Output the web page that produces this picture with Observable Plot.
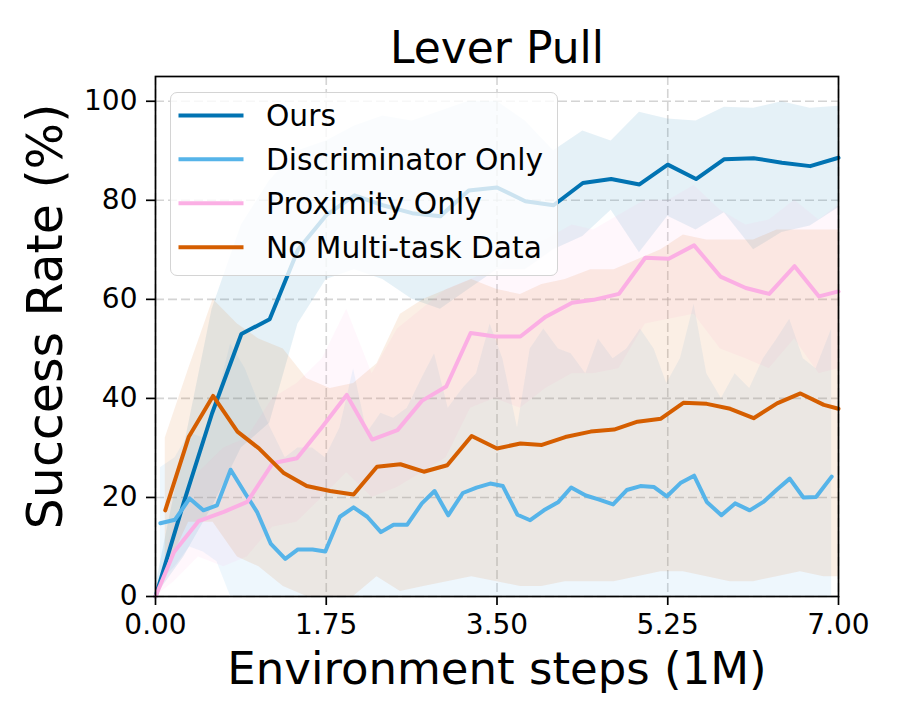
<!DOCTYPE html>
<html>
<head>
<meta charset="utf-8">
<script src="https://cdn.jsdelivr.net/npm/d3@7"></script>
<script src="https://cdn.jsdelivr.net/npm/@observablehq/plot@0.6"></script>
<style>
  body { margin: 0; background: #fff; font-family: "DejaVu Sans", sans-serif; }
  #wrap { position: relative; width: 900px; height: 720px; }
  #legend { position: absolute; left: 170px; top: 92px; width: 388px; height: 184px;
            box-sizing: border-box; border: 1.5px solid #d4d4d4; border-radius: 7px;
            background: rgba(255,255,255,0.8); }
</style>
</head>
<body>
<div id="wrap"><div id="legend"></div></div>
<script>
// ---------------- data ----------------
const titleText = "Lever Pull";
const xLabel = "Environment steps (1M)";
const yLabel = "Success Rate (%)";
const xTicks = [0, 1.75, 3.5, 5.25, 7];
const yTicks = [0, 20, 40, 60, 80, 100];

const names = ["Ours", "Discriminator Only", "Proximity Only", "No Multi-task Data"];
const colors = ["#0173B2", "#56B4E9", "#FBAFE4", "#D55E00"];

// Ours
const oursX = [0, 0.29, 0.58, 0.88, 1.17, 1.46, 1.75, 2.04, 2.33, 2.63, 2.92, 3.21, 3.5, 3.79, 4.08, 4.38, 4.67, 4.96, 5.25, 5.54, 5.83, 6.13, 6.42, 6.71, 7.0];
const oursMean = [0, 19, 37, 53, 56, 70, 77, 81, 79, 77.4, 76.8, 82, 82.6, 79.8, 79, 83.5, 84.3, 83.2, 87.2, 84.3, 88.3, 88.5, 87.6, 86.9, 88.6];
const oursLo = [0, 8, 18, 30, 35, 55, 64, 66, 64, 60, 58, 62, 66, 66, 70, 72.7, 78, 69.4, 76.8, 74, 77.5, 70, 73.5, 74.8, 78.5];
const oursHi = [2, 30, 58, 75, 84, 90, 92, 95, 97, 96, 98, 100, 100, 96, 90, 94, 92, 97.8, 96.4, 96, 98.8, 98.6, 99.9, 98.6, 99];

// Discriminator Only
const discX = [0.05, 0.20, 0.35, 0.49, 0.63, 0.77, 0.92, 1.04, 1.18, 1.33, 1.46, 1.61, 1.74, 1.89, 2.03, 2.17, 2.31, 2.44, 2.58, 2.73, 2.86, 3.00, 3.15, 3.29, 3.43, 3.56, 3.71, 3.84, 3.98, 4.13, 4.26, 4.41, 4.54, 4.69, 4.83, 4.97, 5.11, 5.24, 5.38, 5.52, 5.65, 5.80, 5.94, 6.09, 6.23, 6.37, 6.50, 6.64, 6.77, 6.93];
const discMean = [14.8, 15.5, 19.8, 17.4, 18.4, 25.6, 20.8, 17.1, 10.7, 7.6, 9.5, 9.5, 9.1, 16.1, 18.0, 16.1, 13.0, 14.5, 14.5, 18.8, 21.3, 16.4, 20.9, 22.0, 22.8, 22.3, 16.5, 15.4, 17.4, 19.1, 22.0, 20.4, 19.6, 18.6, 21.5, 22.3, 22.1, 20.2, 22.9, 24.4, 19.1, 16.4, 18.8, 17.4, 19.1, 21.6, 23.8, 20.0, 20.1, 24.2];
const discLo = [3, 6, 10, 9, 7, 0, 0, 0, 0, 0, 0, 0, 0, 0, 0, 0, 0, 0, 0, 0, 0, 0, 0, 0, 0, 0, 0, 0, 0, 0, 0, 0, 0, 0, 0, 0, 0, 0, 0, 0, 0, 0, 0, 0, 0, 0, 0, 0, 0, 0];
const discHi = [26, 28, 33, 32, 40, 51, 46, 40, 34, 28, 30, 30, 28, 34, 46, 33, 37, 36, 38, 44, 49, 38, 42, 45, 55, 48, 34, 50, 54, 50, 49, 45, 52, 48, 50, 54, 50, 43, 48, 59, 45, 40, 45, 42, 48, 52, 56, 48, 46, 54];

// Proximity Only
const proxX = [0, 0.19, 0.44, 0.70, 0.94, 1.20, 1.45, 1.71, 1.96, 2.22, 2.48, 2.73, 2.98, 3.23, 3.48, 3.74, 4.00, 4.27, 4.49, 4.75, 5.02, 5.26, 5.52, 5.79, 6.05, 6.29, 6.55, 6.80, 7.00];
const proxMean = [0, 9.0, 15.2, 17.1, 19.1, 26.9, 27.9, 34.3, 40.7, 31.7, 33.6, 39.5, 42.4, 53.2, 52.5, 52.5, 56.5, 59.3, 59.9, 61.1, 68.4, 68.2, 70.9, 64.6, 62.3, 61.1, 66.7, 60.6, 61.6];
const proxLo = [0, 3, 8, 6, 8, 14, 15, 20, 25, 20, 22, 25, 28, 38, 40, 38, 42, 45, 45, 46, 55, 56, 57, 50, 48, 46, 52, 45, 46];
const proxHi = [0, 15, 25, 30, 32, 40, 43, 48, 58, 45, 54, 58, 62, 64, 66, 70, 72, 75, 74, 77, 80, 80, 83, 78, 75, 76, 80, 76, 79];

// No Multi-task Data
const noMtX = [0.10, 0.34, 0.59, 0.84, 1.06, 1.31, 1.55, 1.79, 2.03, 2.27, 2.51, 2.75, 2.99, 3.24, 3.50, 3.74, 3.96, 4.20, 4.46, 4.70, 4.94, 5.18, 5.41, 5.65, 5.89, 6.13, 6.37, 6.61, 6.85, 7.0];
const noMtMean = [17.4, 32.2, 40.5, 33.3, 29.9, 25.0, 22.3, 21.3, 20.6, 26.2, 26.7, 25.2, 26.5, 32.4, 29.9, 30.9, 30.6, 32.2, 33.3, 33.7, 35.3, 35.9, 39.1, 38.9, 37.9, 36.0, 39.0, 41.0, 38.7, 37.9];
const noMtLo = [5, 15, 15, 8, 6, 2, 0, 0, 0, 4, 1, 2, 3, 4, 3, 2, 2, 3, 3, 3, 4, 5, 5, 4, 3, 3, 4, 5, 4, 4];
const noMtHi = [32, 46, 60, 55, 52, 50, 44, 42, 43, 47, 57, 60, 62, 64, 62, 61, 63, 64, 66, 66, 68, 70, 73, 72, 72, 72, 74, 74, 74, 74];

// ---------------- build ----------------
const seriesSrc = [
  [oursX, oursMean, oursLo, oursHi],
  [discX, discMean, discLo, discHi],
  [proxX, proxMean, proxLo, proxHi],
  [noMtX, noMtMean, noMtLo, noMtHi]
];
const series = seriesSrc.map(([xs, m, lo, hi], k) =>
  xs.map((x, i) => ({x, y: m[i], lo: lo[i], hi: hi[i], name: names[k]})));

const font = '"DejaVu Sans", sans-serif';
const gridStyle = {stroke: "#b0b0b0", strokeOpacity: 0.55, strokeWidth: 1.6, strokeDasharray: "9,4"};

const bands = series.map((d, k) => Plot.areaY(d, {x: "x", y1: "lo", y2: "hi", fill: colors[k], fillOpacity: 0.1}));
const lines = series.map((d, k) => Plot.line(d, {x: "x", y: "y", stroke: colors[k], strokeWidth: 4, strokeLinejoin: "round"}));

const chart = Plot.plot({
  width: 900, height: 720,
  marginLeft: 155, marginRight: 62, marginTop: 76, marginBottom: 124,
  style: {fontFamily: font, background: "white", color: "black", overflow: "visible"},
  x: {domain: [0, 7]},
  y: {domain: [0, 105]},
  marks: [
    Plot.gridX(xTicks, gridStyle),
    Plot.gridY(yTicks, gridStyle),
    ...bands,
    ...lines,
    Plot.frame({stroke: "black", strokeWidth: 1.7}),
    Plot.axisX(xTicks, {tickFormat: d => d.toFixed(2), tickSize: 9, tickPadding: 9, fontSize: 28, strokeWidth: 1.7, label: null}),
    Plot.axisY(yTicks, {tickSize: 9, tickPadding: 9, fontSize: 28, strokeWidth: 1.7, label: null}),
    Plot.text([titleText], {text: d => d, frameAnchor: "top", lineAnchor: "bottom", dy: -14, fontSize: 44, fill: "black"}),
    Plot.text([xLabel], {text: d => d, frameAnchor: "bottom", lineAnchor: "bottom", dy: 87, fontSize: 45, fill: "black"}),
    Plot.text([yLabel], {text: d => d, frameAnchor: "left", textAnchor: "middle", lineAnchor: "middle", rotate: -90, dx: -109, dy: -20, fontSize: 49, fill: "black"})
  ]
});
document.getElementById("wrap").insertBefore(chart, document.getElementById("legend"));
chart.style.position = "absolute";
chart.style.left = "0px";
chart.style.top = "0px";

// ---------------- legend ----------------
const leg = d3.select("#legend").append("svg")
  .attr("width", 385).attr("height", 181)
  .style("position", "absolute").style("left", "0px").style("top", "0px");
const rowY = [22.5, 66.2, 110.2, 154.2];
names.forEach((n, k) => {
  leg.append("line").attr("x1", 7.5).attr("x2", 72.5).attr("y1", rowY[k]).attr("y2", rowY[k])
    .attr("stroke", colors[k]).attr("stroke-width", 4);
  leg.append("text").attr("x", 95).attr("y", rowY[k] + 10.4)
    .attr("font-family", font).attr("font-size", 29.7).attr("fill", "black").text(n);
});
</script>
</body>
</html>
